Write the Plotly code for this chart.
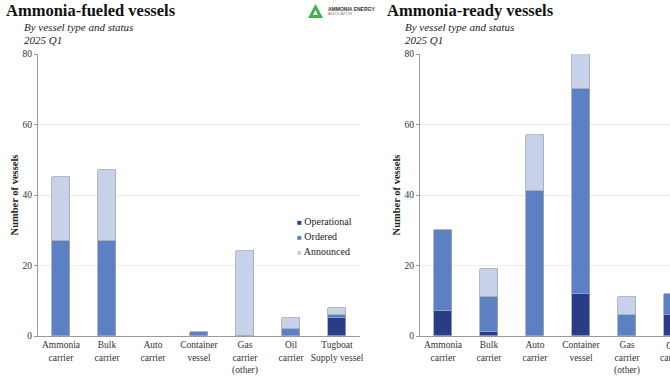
import plotly.graph_objects as go

# ---- data ----
fueled_categories = ["Ammonia<br>carrier", "Bulk<br>carrier", "Auto<br>carrier", "Container<br>vessel",
                     "Gas<br>carrier<br>(other)", "Oil<br>carrier", "Tugboat<br>Supply vessel"]
fueled_operational = [0, 0, 0, 0, 0, 0, 5]
fueled_ordered = [27, 27, 0, 1, 0, 2, 1]
fueled_announced = [18, 20, 0, 0, 24, 3, 2]

ready_categories = ["Ammonia<br>carrier", "Bulk<br>carrier", "Auto<br>carrier", "Container<br>vessel",
                    "Gas<br>carrier<br>(other)", "Oil<br>carrier"]
ready_operational = [7, 1, 0, 12, 0, 6]
ready_ordered = [23, 10, 41, 58, 6, 6]
ready_announced = [0, 8, 16, 10, 5, 0]

y_ticks = [0, 20, 40, 60, 80]
statuses = ["Operational", "Ordered", "Announced"]
colors = {"Operational": "#283c88", "Ordered": "#5b80c4", "Announced": "#c7d1ea"}

W, H = 670, 380
SERIF = "Georgia, 'Liberation Serif', 'DejaVu Serif', serif"

fig = go.Figure()

fueled = {"Operational": fueled_operational, "Ordered": fueled_ordered, "Announced": fueled_announced}
ready = {"Operational": ready_operational, "Ordered": ready_ordered, "Announced": ready_announced}


def nz(vals):
    # zero-height segments are not drawn (avoids stray outlines)
    return [v if v else None for v in vals]


for s in statuses:
    fig.add_trace(go.Bar(x=list(range(len(fueled_categories))), y=nz(fueled[s]), name=s,
                         marker=dict(color=colors[s], line=dict(color="#a3a8b4", width=0.8)),
                         width=0.39, xaxis="x", yaxis="y", showlegend=False))
for s in statuses:
    fig.add_trace(go.Bar(x=list(range(len(ready_categories))), y=nz(ready[s]), name=s,
                         marker=dict(color=colors[s], line=dict(color="#a3a8b4", width=0.8)),
                         width=0.39, xaxis="x2", yaxis="y2", showlegend=False))

# geometry
spacing = 46.0
x1_dom = [38 / W, 360 / W]
x2_dom = [420 / W, 1.0]
y_dom = [1 - 336 / H, 1 - 54 / H]
x1_range = [-0.5, -0.5 + (x1_dom[1] - x1_dom[0]) * W / spacing]
x2_range = [-0.5, -0.5 + (x2_dom[1] - x2_dom[0]) * W / spacing]

tickfont = dict(family=SERIF, size=9.5, color="#333333")
common_x = dict(showgrid=False, showline=True, linecolor="#9a9a9a", linewidth=1,
                ticks="", tickfont=tickfont, tickmode="array", zeroline=False, fixedrange=True)
common_y = dict(range=[0, 80], tickvals=y_ticks, showgrid=True, gridcolor="#ececec", gridwidth=1,
                showline=True, linecolor="#9a9a9a", linewidth=1, ticks="outside", ticklen=3,
                tickcolor="#9a9a9a", tickfont=tickfont, zeroline=False, domain=y_dom, fixedrange=True,
                title=dict(text="<b>Number of vessels</b>", font=dict(family=SERIF, size=10.5, color="#222"),
                           standoff=1))

fig.update_layout(
    width=W, height=H, margin=dict(l=0, r=0, t=0, b=0, autoexpand=False),
    paper_bgcolor="white", plot_bgcolor="white", barmode="stack", bargap=0,
    xaxis=dict(domain=x1_dom, range=x1_range, anchor="y",
               tickvals=list(range(len(fueled_categories))), ticktext=fueled_categories, **common_x),
    xaxis2=dict(domain=x2_dom, range=x2_range, anchor="y2",
                tickvals=list(range(len(ready_categories))), ticktext=ready_categories, **common_x),
    yaxis=dict(anchor="x", **common_y),
    yaxis2=dict(anchor="x2", **common_y),
    font=dict(family=SERIF),
    showlegend=False,
)

# legend (compact, as in the reference)
for i, s in enumerate(statuses):
    fig.add_annotation(x=295 / W, y=1 - (221 + i * 15.5) / H, xref="paper", yref="paper",
                       xanchor="left", yanchor="middle", showarrow=False,
                       text=f"<span style='color:{colors[s]};font-size:8px'>■</span> {s}",
                       font=dict(family=SERIF, size=10, color="#222"))

# partially visible tick label of the cut-off category on the right panel
cut_idx = len(ready_categories) - 1
cut_x = x2_dom[0] + (cut_idx - x2_range[0]) / (x2_range[1] - x2_range[0]) * (x2_dom[1] - x2_dom[0])
fig.add_annotation(x=cut_x, y=y_dom[0], xref="paper", yref="paper", yanchor="top", xanchor="center",
                   yshift=-3, text=ready_categories[cut_idx], showarrow=False, font=tickfont, align="center")

# titles and subtitles
title_font = dict(family=SERIF, size=16.5, color="#111111")
sub_font = dict(family=SERIF, size=11, color="#222222")
for x0, title in [(4, "Ammonia-fueled vessels"), (385, "Ammonia-ready vessels")]:
    fig.add_annotation(x=x0 / W, y=1 - 11 / H, xref="paper", yref="paper", xanchor="left", yanchor="middle",
                       text=f"<b>{title}</b>", showarrow=False, font=title_font)
    fig.add_annotation(x=(x0 + 18) / W, y=1 - 27 / H, xref="paper", yref="paper", xanchor="left",
                       yanchor="middle", text="<i>By vessel type and status</i>", showarrow=False, font=sub_font)
    fig.add_annotation(x=(x0 + 18) / W, y=1 - 39.5 / H, xref="paper", yref="paper", xanchor="left",
                       yanchor="middle", text="<i>2025 Q1</i>", showarrow=False, font=sub_font)

# logo
fig.add_shape(type="path", xref="paper", yref="paper",
              path=f"M {308/W} {1-18/H} L {315.5/W} {1-4/H} L {323/W} {1-18/H} Z",
              fillcolor="#3cb44a", line=dict(width=0))
fig.add_shape(type="path", xref="paper", yref="paper",
              path=f"M {313/W} {1-15/H} L {315.5/W} {1-10/H} L {318/W} {1-15/H} Z",
              fillcolor="white", line=dict(width=0))
fig.add_annotation(x=326 / W, y=1 - 9 / H, xref="paper", yref="paper", xanchor="left", yanchor="middle",
                   text="<b>AMMONIA ENERGY</b>", showarrow=False,
                   font=dict(family="Liberation Sans, Arial, sans-serif", size=5, color="#333"))
fig.add_annotation(x=326 / W, y=1 - 14 / H, xref="paper", yref="paper", xanchor="left", yanchor="middle",
                   text="ASSOCIATION", showarrow=False,
                   font=dict(family="Liberation Sans, Arial, sans-serif", size=3.5, color="#777"))

fig.write_html("out.html", config={"displayModeBar": False},
               post_script="document.body.style.margin='0';document.body.style.overflow='hidden';")
